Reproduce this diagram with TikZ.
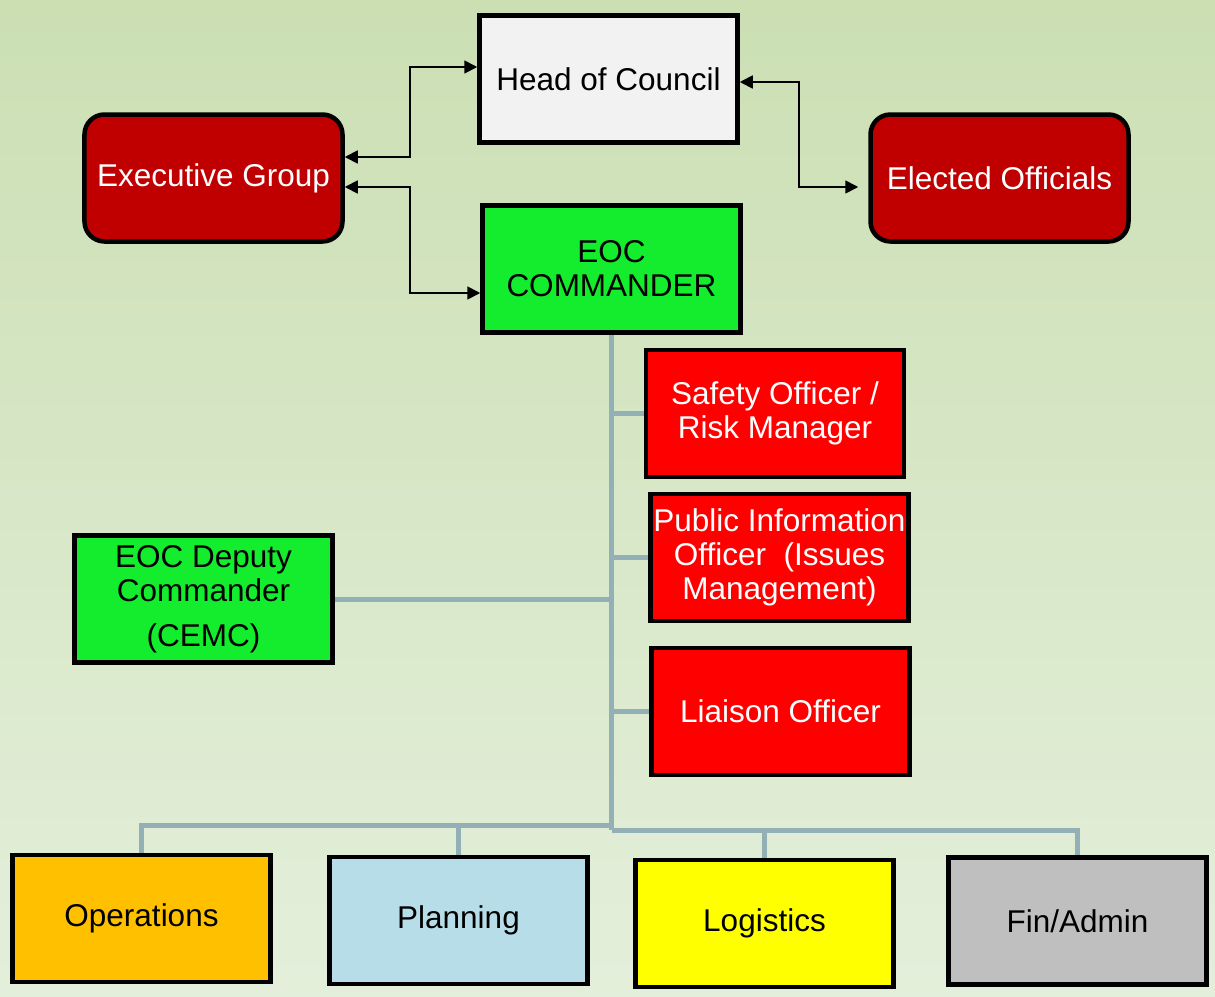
\documentclass[tikz,border=0pt]{standalone}
\usepackage{fontspec}
\setmainfont{Liberation Sans}
\usetikzlibrary{arrows.meta,calc}
\pgfdeclarelayer{back}
\pgfdeclarelayer{links}
\pgfsetlayers{back,links,main}
\definecolor{bgtop}{RGB}{203,223,179}
\definecolor{bgbot}{RGB}{228,239,219}
\definecolor{darkred}{RGB}{192,0,0}
\definecolor{brightred}{RGB}{255,0,0}
\definecolor{eocgreen}{RGB}{20,236,46}
\definecolor{headgray}{RGB}{242,242,242}
\definecolor{opsorange}{RGB}{255,192,0}
\definecolor{planblue}{RGB}{183,222,232}
\definecolor{logyellow}{RGB}{255,255,0}
\definecolor{fingray}{RGB}{191,191,191}
\definecolor{connblue}{RGB}{147,176,183}
\tikzset{
  box/.style={draw=black, line width=4.5bp, minimum width=258bp, minimum height=127bp,
    inner sep=0pt, align=center, font=\fontsize{31.5bp}{34bp}\selectfont},
  rbox/.style={box, rounded corners=20bp, fill=darkred, text=white},
  redbox/.style={box, fill=brightred, text=white},
  greenbox/.style={box, fill=eocgreen, text=black},
  conn/.style={draw=connblue, line width=5bp},
  arr/.style={draw=black, line width=1.8bp, {Triangle[length=13bp,width=13bp]}-{Triangle[length=13bp,width=13bp]}}
}
\begin{document}
\begin{tikzpicture}[x=1bp,y=-1bp]
\begin{pgfonlayer}{back}
\shade[top color=bgtop, bottom color=bgbot] (0,0) rectangle (1215,997);
\end{pgfonlayer}
\useasboundingbox (0,0) rectangle (1215,997);

\node[box, fill=headgray] (hoc) at (608.5,79) {Head of Council};
\node[rbox] (exec) at (213.5,178) {Executive Group};
\node[rbox] (ele) at (999.5,178) {Elected Officials};
\node[greenbox] (eoc) at (611.5,269) {EOC\\COMMANDER};
\node[redbox] (safety) at (775,413.5) {Safety Officer /\\Risk Manager};
\node[redbox] (pio) at (779.5,557.5) {Public Information\\Officer\ \ (Issues\\Management)};
\node[redbox] (liaison) at (780.5,711.5) {Liaison Officer};
\node[greenbox] (dep) at (203.5,599) {EOC Deputy\\Commander\\[11bp](CEMC)};
\node[box, fill=opsorange] (ops) at (141.5,918.5) {Operations};
\node[box, fill=planblue] (plan) at (458.5,920.5) {Planning};
\node[box, fill=logyellow] (log) at (764.5,923.5) {Logistics};
\node[box, fill=fingray] (fin) at (1077.5,921) {Fin/Admin};

\begin{pgfonlayer}{links}
\draw[conn] (eoc.south) -- (eoc.south |- 0,830);
\draw[conn] (eoc.south |- safety.west) -- (safety.west);
\draw[conn] (eoc.south |- pio.west) -- (pio.west);
\draw[conn] (eoc.south |- liaison.west) -- (liaison.west);
\draw[conn] (dep.east) -- (dep.east -| eoc.south);
\draw[conn] (ops.north) |- (eoc.south |- 0,825);
\draw[conn] (plan.north) -- (plan.north |- 0,825);
\draw[conn] (fin.north) |- (eoc.south |- 0,830);
\draw[conn] (log.north) -- (log.north |- 0,830);
\end{pgfonlayer}

\draw[arr] ([yshift=21bp]exec.east) -- ++(65.5,0) |- ([yshift=12bp]hoc.west);
\draw[arr] ([yshift=-9bp]exec.east) -- ++(65.5,0) |- ([yshift=-24bp]eoc.west);
\draw[arr] ([yshift=-3bp]hoc.east) -- ++(59.5,0) |- ([xshift=-10bp,yshift=-9bp]ele.west);
\end{tikzpicture}
\end{document}
